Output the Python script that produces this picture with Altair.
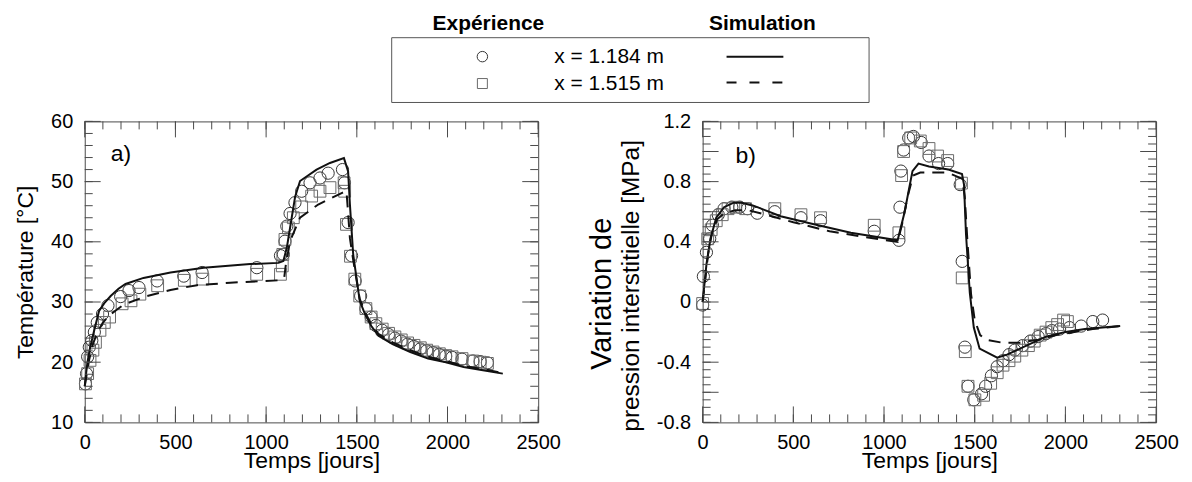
import altair as alt
import pandas as pd

FONT = "Liberation Sans"
FRAME = "#4a4a4a"
W, H = 455, 302

# ---------------- data ----------------
# panel a) temperature
a_sim1_t = [0, 5, 15, 30, 50, 79, 108, 143, 186, 225, 324, 473, 656, 912, 1068, 1095, 1114, 1141, 1160, 1187,
            1278, 1352, 1429, 1452, 1462, 1480, 1516, 1545, 1580, 1619, 1697, 1795, 1893, 1991, 2089, 2187, 2305]
a_sim1_v = [16.0, 17.5, 20.0, 22.5, 25.0, 28.5, 29.8, 31.0, 32.2, 33.0, 34.0, 34.9, 35.7, 36.3, 36.5, 36.8, 39.0,
            44.0, 47.5, 50.1, 52.0, 53.1, 53.9, 51.7, 46.2, 37.9, 30.2, 28.0, 26.0, 24.4, 23.0, 21.7, 20.6, 20.0,
            19.2, 18.7, 18.1]
a_sim2_t = [0, 10, 25, 45, 70, 100, 140, 180, 216, 344, 473, 619, 802, 1068, 1100, 1110, 1132, 1187, 1287, 1416,
            1443, 1450, 1462, 1480, 1516, 1545, 1580, 1619, 1697, 1795, 1893, 1991, 2089, 2187, 2305]
a_sim2_v = [16.0, 17.8, 20.5, 23.0, 25.0, 26.6, 27.9, 28.8, 29.6, 31.0, 32.0, 32.8, 33.2, 33.6, 34.1, 36.5, 40.1,
            44.0, 46.2, 48.1, 48.4, 45.6, 40.6, 37.0, 30.5, 28.3, 26.3, 24.7, 23.3, 22.0, 20.9, 20.2, 19.4, 18.9,
            18.2]
a_exp1_t = [4, 10, 16, 25, 39, 53, 69, 98, 128, 198, 244, 299, 399, 546, 647, 949, 1079, 1095, 1104, 1114, 1132,
            1159, 1196, 1242, 1297, 1342, 1421, 1432, 1452, 1471, 1491, 1521, 1550, 1579, 1605, 1640, 1675, 1710,
            1745, 1780, 1815, 1850, 1885, 1920, 1955, 1990, 2025, 2080, 2140, 2180, 2220]
a_exp1_v = [16.4, 18.1, 20.9, 22.5, 23.6, 25.0, 26.6, 28.0, 29.4, 30.9, 31.9, 32.4, 33.5, 34.3, 34.9, 35.7, 37.7,
            37.9, 40.1, 42.6, 44.7, 46.5, 48.4, 49.8, 50.6, 51.4, 52.0, 49.8, 43.2, 37.7, 33.5, 31.0, 28.9, 27.5,
            26.1, 25.3, 24.6, 24.0, 23.5, 23.0, 22.6, 22.2, 21.9, 21.6, 21.3, 21.0, 20.8, 20.5, 20.2, 20.1, 19.9]
a_exp2_t = [4, 16, 29, 45, 59, 84, 108, 137, 206, 255, 304, 402, 549, 651, 948, 1079, 1089, 1092, 1104, 1123,
            1150, 1196, 1251, 1297, 1352, 1430, 1433, 1443, 1465, 1489, 1516, 1550, 1579, 1605, 1640, 1675, 1710,
            1745, 1780, 1815, 1850, 1885, 1920, 1955, 1990, 2025, 2080, 2140, 2180, 2220]
a_exp2_v = [16.4, 18.1, 20.3, 22.0, 23.3, 25.3, 26.6, 27.5, 29.7, 30.2, 31.3, 32.7, 33.6, 33.8, 34.6, 34.6, 36.0,
            37.9, 40.4, 42.3, 44.0, 45.8, 47.6, 48.4, 49.0, 49.8, 48.4, 42.9, 37.6, 33.8, 31.0, 28.9, 27.5, 26.4,
            25.5, 24.8, 24.2, 23.7, 23.2, 22.8, 22.4, 22.0, 21.7, 21.4, 21.1, 20.9, 20.6, 20.2, 20.0, 19.8]

# panel b) pore pressure variation
b_sim1_t = [0, 10, 21, 43, 75, 118, 172, 215, 280, 430, 602, 817, 1075, 1114, 1136, 1157, 1190, 1248, 1355, 1430,
            1441, 1452, 1473, 1495, 1527, 1624, 1678, 1785, 1893, 2000, 2108, 2302]
b_sim1_v = [0.0, 0.12, 0.25, 0.42, 0.56, 0.63, 0.66, 0.66, 0.64, 0.57, 0.52, 0.46, 0.41, 0.60, 0.74, 0.87, 0.92,
            0.90, 0.88, 0.85, 0.78, 0.45, 0.06, -0.17, -0.31, -0.37, -0.35, -0.29, -0.23, -0.20, -0.18, -0.16]
b_sim2_t = [0, 15, 30, 50, 80, 120, 180, 250, 350, 500, 700, 900, 1075, 1100, 1130, 1160, 1200, 1350, 1430, 1445,
            1460, 1480, 1500, 1530, 1560, 1650, 1750, 1850, 1950, 2050, 2150, 2302]
b_sim2_v = [0.0, 0.15, 0.32, 0.45, 0.55, 0.59, 0.61, 0.61, 0.58, 0.53, 0.47, 0.43, 0.40, 0.52, 0.70, 0.84, 0.86,
            0.86, 0.82, 0.70, 0.40, 0.05, -0.12, -0.22, -0.25, -0.27, -0.27, -0.25, -0.22, -0.20, -0.18, -0.16]
b_exp1_t = [0, 4, 21, 39, 54, 86, 118, 161, 204, 247, 301, 398, 542, 650, 946, 1082, 1088, 1093, 1108, 1136, 1162,
            1205, 1248, 1301, 1351, 1420, 1431, 1446, 1463, 1495, 1538, 1560, 1592, 1624, 1656, 1689, 1721, 1764,
            1807, 1850, 1893, 1925, 1968, 2022, 2087, 2151, 2205]
b_exp1_v = [-0.02, 0.17, 0.33, 0.42, 0.51, 0.58, 0.62, 0.63, 0.63, 0.62, 0.59, 0.60, 0.56, 0.54, 0.47, 0.41, 0.63,
            0.87, 1.01, 1.09, 1.10, 1.06, 0.97, 0.92, 0.92, 0.78, 0.27, -0.30, -0.56, -0.65, -0.61, -0.56, -0.49,
            -0.43, -0.39, -0.35, -0.32, -0.29, -0.26, -0.23, -0.21, -0.19, -0.18, -0.17, -0.16, -0.13, -0.12]
b_exp2_t = [0, 28, 47, 75, 108, 140, 183, 237, 398, 542, 650, 946, 1082, 1097, 1108, 1147, 1200, 1248, 1295, 1351,
            1427, 1431, 1448, 1463, 1501, 1549, 1588, 1624, 1656, 1689, 1721, 1760, 1796, 1828, 1861, 1893, 1925,
            1957, 1990, 2011]
b_exp2_v = [-0.01, 0.42, 0.48, 0.54, 0.58, 0.62, 0.63, 0.62, 0.62, 0.58, 0.56, 0.51, 0.46, 0.84, 1.00, 1.09, 1.07,
            1.02, 0.97, 0.94, 0.79, 0.16, -0.33, -0.56, -0.65, -0.62, -0.54, -0.47, -0.42, -0.39, -0.36, -0.32,
            -0.29, -0.26, -0.22, -0.20, -0.17, -0.15, -0.12, -0.13]

# axis ticks / labels
x_domain = [0, 2500]
x_labels = [0, 500, 1000, 1500, 2000, 2500]
x_minor = list(range(0, 2501, 100))
a_domain = [10, 60]
a_labels = [10, 20, 30, 40, 50, 60]
a_minor = list(range(10, 61, 2))
b_domain = [-0.8, 1.2]
b_labels = [-0.8, -0.4, 0, 0.4, 0.8, 1.2]
b_major = [round(-0.8 + 0.2 * i, 2) for i in range(11)]
b_minor = [round(-0.8 + 0.05 * i, 2) for i in range(41)]

x_title = "Temps [jours]"
a_title = "Température [°C]"
b_title = ["Variation de", "pression interstitielle [MPa]"]
legend_exp = "Expérience"
legend_sim = "Simulation"
legend_labels = ["x = 1.184 m", "x = 1.515 m"]


def frame_ticks(xs, ys, xaxis, yaxis, xmin, xmaj, ymin, ymaj):
    layers = []
    for vals, L in [(xmin, 8), (xmaj, 16)]:
        d = alt.Chart(pd.DataFrame({"tv": vals})).mark_rule(color=FRAME, strokeWidth=1)
        xe = alt.X("tv:Q", scale=xs, axis=xaxis)
        layers.append(d.encode(x=xe, y=alt.value(0), y2=alt.value(L)))
        layers.append(d.encode(x=xe, y=alt.value(H), y2=alt.value(H - L)))
    for vals, L in [(ymin, 8), (ymaj, 16)]:
        d = alt.Chart(pd.DataFrame({"tv": vals})).mark_rule(color=FRAME, strokeWidth=1)
        ye = alt.Y("tv:Q", scale=ys, axis=yaxis)
        layers.append(d.encode(y=ye, x=alt.value(0), x2=alt.value(L)))
        layers.append(d.encode(y=ye, x=alt.value(W), x2=alt.value(W - L)))
    return layers


def panel(ydom, ylabels, ytitle, title_x, label_expr, ymin, ymaj, e1, e2, s1, s2, tag, tag_xy, extra):
    xs = alt.Scale(domain=x_domain, nice=False, zero=False)
    ys = alt.Scale(domain=ydom, nice=False, zero=False)
    xaxis = alt.Axis(values=x_labels, format="d", ticks=False, domain=False, grid=False, labelFontSize=20,
                     labelFont=FONT, labelColor="black", labelPadding=10, labelFlush=False,
                     labelOverlap=False, title=x_title, titleFont=FONT, titleFontSize=23,
                     titleFontWeight="normal", titleColor="black", titleX=W / 2, titleY=45,
                     titleBaseline="alphabetic", titleAlign="center")
    yargs = dict(values=ylabels, ticks=False, domain=False, grid=False, labelFontSize=20,
                 labelFont=FONT, labelColor="black", labelPadding=12, labelFlush=False,
                 labelOverlap=False, title=ytitle, titleFont=FONT, titleFontSize=23,
                 titleFontWeight="normal", titleColor="black", titleX=title_x, titleY=H / 2,
                 titleAngle=270, titleBaseline="middle", titleAlign="center")
    if label_expr:
        yargs["labelExpr"] = label_expr
    yaxis = alt.Axis(**yargs)

    def d(t, v):
        return pd.DataFrame({"t": t, "v": v})

    X = alt.X("t:Q", scale=xs, axis=xaxis)
    Y = alt.Y("v:Q", scale=ys, axis=yaxis)

    circles = alt.Chart(d(*e1)).mark_point(shape="circle", filled=False, size=150, strokeWidth=1,
                                           color="#353535", opacity=1).encode(x=X, y=Y)
    squares = alt.Chart(d(*e2)).mark_point(shape="square", filled=False, size=140, strokeWidth=1,
                                           color="#6a6a6a", opacity=1).encode(x=X, y=Y)
    solid = alt.Chart(d(*s1)).mark_line(color="#111111", strokeWidth=2).encode(x=X, y=Y)
    dashed = alt.Chart(d(*s2)).mark_line(color="#111111", strokeWidth=2, strokeDash=[12, 8]).encode(
        x=X, y=Y)
    tagc = alt.Chart(pd.DataFrame({"t": [tag_xy[0]], "v": [tag_xy[1]], "s": [tag]})).mark_text(
        font=FONT, fontSize=23, align="left", baseline="alphabetic", color="black").encode(
        x=X, y=Y, text="s:N")
    layers = [circles, squares, solid, dashed, tagc]
    layers += frame_ticks(xs, ys, xaxis, yaxis, x_minor, x_labels, ymin, ymaj)
    layers += extra
    return alt.layer(*layers).properties(width=W, height=H)


one = pd.DataFrame({"d": [0]})
OX, OY = 84, 120  # left plot origin on the page
RX = 704          # right plot left edge on the page


def px(x, ox=OX):
    return alt.value(x - ox)


def py(y):
    return alt.value(y - OY)


legend_layers = [
    alt.Chart(one).mark_rect(opacity=0).encode(x=px(8), x2=px(9), y=py(8), y2=py(9)),
    alt.Chart(one).mark_rect(fillOpacity=0, stroke="#555555", strokeWidth=1).encode(
        x=px(392), x2=px(871), y=py(36), y2=py(101)),
    alt.Chart(one).mark_text(text=legend_exp, font=FONT, fontSize=21, fontWeight="bold", align="center",
                             baseline="alphabetic", color="black").encode(x=px(489), y=py(28)),
    alt.Chart(one).mark_text(text=legend_sim, font=FONT, fontSize=21, fontWeight="bold", align="center",
                             baseline="alphabetic", color="black").encode(x=px(764), y=py(28)),
    alt.Chart(one).mark_point(shape="circle", filled=False, size=110, strokeWidth=1, color="#353535",
                              opacity=1).encode(x=px(483), y=py(55)),
    alt.Chart(one).mark_point(shape="square", filled=False, size=100, strokeWidth=1, color="#6a6a6a",
                              opacity=1).encode(x=px(483), y=py(82)),
    alt.Chart(one).mark_text(text=legend_labels[0], font=FONT, fontSize=21, align="left",
                             baseline="middle", color="black").encode(x=px(555), y=py(55)),
    alt.Chart(one).mark_text(text=legend_labels[1], font=FONT, fontSize=21, align="left",
                             baseline="middle", color="black").encode(x=px(555), y=py(82)),
    alt.Chart(one).mark_rule(color="#111111", strokeWidth=2).encode(x=px(728), x2=px(785), y=py(55)),
    alt.Chart(one).mark_rule(color="#111111", strokeWidth=2, strokeDash=[10, 13]).encode(
        x=px(728), x2=px(785), y=py(81)),
]

# right panel y-axis title: two lines of different sizes, as in the figure
b_title_layers = [
    alt.Chart(one).mark_text(text=b_title[0], font=FONT, fontSize=29, angle=270, align="center",
                             baseline="middle", color="black").encode(x=px(603, RX), y=py(293)),
    alt.Chart(one).mark_text(text=b_title[1], font=FONT, fontSize=24.5, angle=270, align="center",
                             baseline="middle", color="black").encode(x=px(633, RX), y=py(285)),
]

left = panel(a_domain, a_labels, a_title, -59, None, a_minor, a_labels,
             (a_exp1_t, a_exp1_v), (a_exp2_t, a_exp2_v), (a_sim1_t, a_sim1_v), (a_sim2_t, a_sim2_v),
             "a)", (143, 53.5), legend_layers)

b_expr = ("datum.value == 0 ? '0' : (datum.value < 0 ? '-' + format(-datum.value, '.1f') "
          ": format(datum.value, '.1f'))")
right = panel(b_domain, b_labels, "", -88, b_expr, b_minor, b_major,
              (b_exp1_t, b_exp1_v), (b_exp2_t, b_exp2_v), (b_sim1_t, b_sim1_v), (b_sim2_t, b_sim2_v),
              "b)", (181, 0.922), b_title_layers)

chart = alt.hconcat(left, right, spacing=165, bounds="flush").properties(
    padding={"left": 0, "top": 0, "right": 5, "bottom": 5}
).configure(font=FONT).configure_view(stroke=FRAME, strokeWidth=1)

chart.save("out.html", embed_options={"renderer": "svg", "actions": False})
